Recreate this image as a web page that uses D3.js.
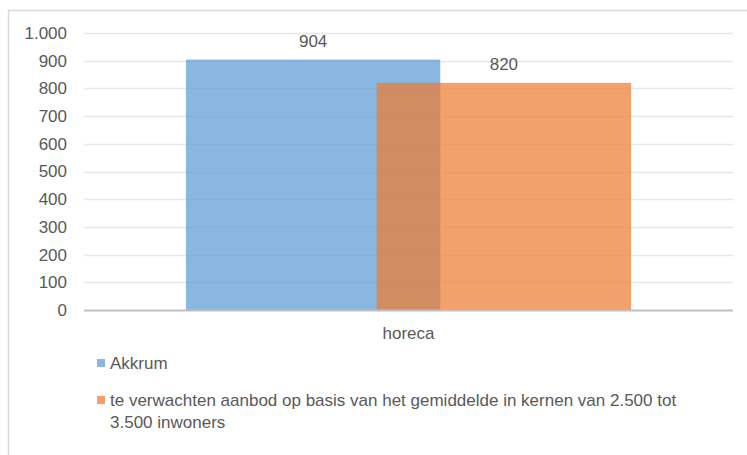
<!DOCTYPE html>
<html>
<head>
<meta charset="utf-8">
<script src="https://cdn.jsdelivr.net/npm/d3@7"></script>
<style>
  html, body { margin: 0; padding: 0; background: #fff; }
  svg { display: block; font-family: "Liberation Sans", Arial, sans-serif; }
</style>
</head>
<body>
<svg id="chart" width="747" height="455"></svg>
<script>
// Chart data
const categories = ["horeca"];
const seriesNames = [
  "Akkrum",
  "te verwachten aanbod op basis van het gemiddelde in kernen van 2.500 tot 3.500 inwoners"
];
const akkrumValues = [904];
const expectedValues = [820];
const yTicks = [0, 100, 200, 300, 400, 500, 600, 700, 800, 900, 1000];
const seriesColors = ["#5b9bd5", "#ed7d31"];

const series = [akkrumValues, expectedValues];

const svg = d3.select("#chart");
const W = 747, H = 455;
const plot = { left: 84, right: 733, top: 33, bottom: 310 };
const textColor = "#595959";
const fontSize = 17;

// Outer frame (top and left edges visible)
svg.append("rect")
  .attr("x", 8.5).attr("y", 10.5)
  .attr("width", W + 20).attr("height", H + 20)
  .attr("fill", "none").attr("stroke", "#d9d9d9").attr("stroke-width", 1.5);

const y = d3.scaleLinear().domain([0, 1000]).range([plot.bottom, plot.top]);
const x = d3.scaleBand().domain(categories).range([plot.left, plot.right])
  .paddingInner(0).paddingOuter(0.229);

// Bars overlap by 25% of their width
const overlap = 0.25;
const barW = x.bandwidth() / (series.length - overlap * (series.length - 1));
const barX = (ci, si) => x(categories[ci]) + si * barW * (1 - overlap);

// Gridlines
svg.append("g")
  .selectAll("line")
  .data(yTicks.filter(t => t > 0))
  .join("line")
  .attr("x1", plot.left).attr("x2", plot.right)
  .attr("y1", d => Math.round(y(d)) + 0.5).attr("y2", d => Math.round(y(d)) + 0.5)
  .attr("stroke", "#e8e8e8").attr("stroke-width", 1.5);

// Y axis labels
const fmt = d => d3.format(",")(d).replace(/,/g, ".");
const yAxis = d3.axisLeft(y).tickValues(yTicks).tickFormat(fmt).tickSize(0).tickPadding(0);
const yg = svg.append("g").attr("transform", `translate(67,0)`).call(yAxis);
yg.select(".domain").remove();
yg.selectAll("text")
  .attr("fill", textColor)
  .style("font-size", fontSize + "px")
  .style("font-family", "'Liberation Sans', Arial, sans-serif");

// Bars
series.forEach((vals, si) => {
  svg.append("g")
    .selectAll("rect")
    .data(vals)
    .join("rect")
    .attr("x", (d, ci) => barX(ci, si))
    .attr("width", barW)
    .attr("y", d => y(d))
    .attr("height", d => plot.bottom - y(d))
    .attr("fill", seriesColors[si])
    .attr("fill-opacity", 0.72);
});

// Value labels
series.forEach((vals, si) => {
  svg.append("g")
    .selectAll("text")
    .data(vals)
    .join("text")
    .attr("x", (d, ci) => barX(ci, si) + barW / 2)
    .attr("y", d => y(d) - 13)
    .attr("text-anchor", "middle")
    .attr("fill", textColor)
    .style("font-size", fontSize + "px")
    .text(d => d);
});

// Baseline axis
svg.append("line")
  .attr("x1", plot.left).attr("x2", plot.right)
  .attr("y1", plot.bottom + 0.5).attr("y2", plot.bottom + 0.5)
  .attr("stroke", "#bfbfbf").attr("stroke-width", 2);

// Category labels
const xAxis = d3.axisBottom(x).tickSize(0).tickPadding(0);
const xg = svg.append("g").attr("transform", `translate(0,${plot.bottom + 29})`).call(xAxis);
xg.select(".domain").remove();
xg.selectAll("text")
  .attr("fill", textColor)
  .attr("dy", 0)
  .style("font-size", fontSize + "px")
  .style("font-family", "'Liberation Sans', Arial, sans-serif");

// Legend
const legend = svg.append("g");
const legendItems = [
  { lines: [seriesNames[0]], y: 363 },
  { lines: ["te verwachten aanbod op basis van het gemiddelde in kernen van 2.500 tot", "3.500 inwoners"], y: 400 }
];
legendItems.forEach((item, i) => {
  legend.append("rect")
    .attr("x", 97).attr("y", item.y - 4)
    .attr("width", 8).attr("height", 8)
    .attr("fill", seriesColors[i]).attr("fill-opacity", 0.72);
  const t = legend.append("text")
    .attr("x", 110).attr("y", item.y)
    .attr("fill", textColor)
    .style("font-size", fontSize + "px");
  item.lines.forEach((ln, li) => {
    t.append("tspan").attr("x", 110).attr("dy", li === 0 ? "0.35em" : 22).text(ln);
  });
});
</script>
</body>
</html>
